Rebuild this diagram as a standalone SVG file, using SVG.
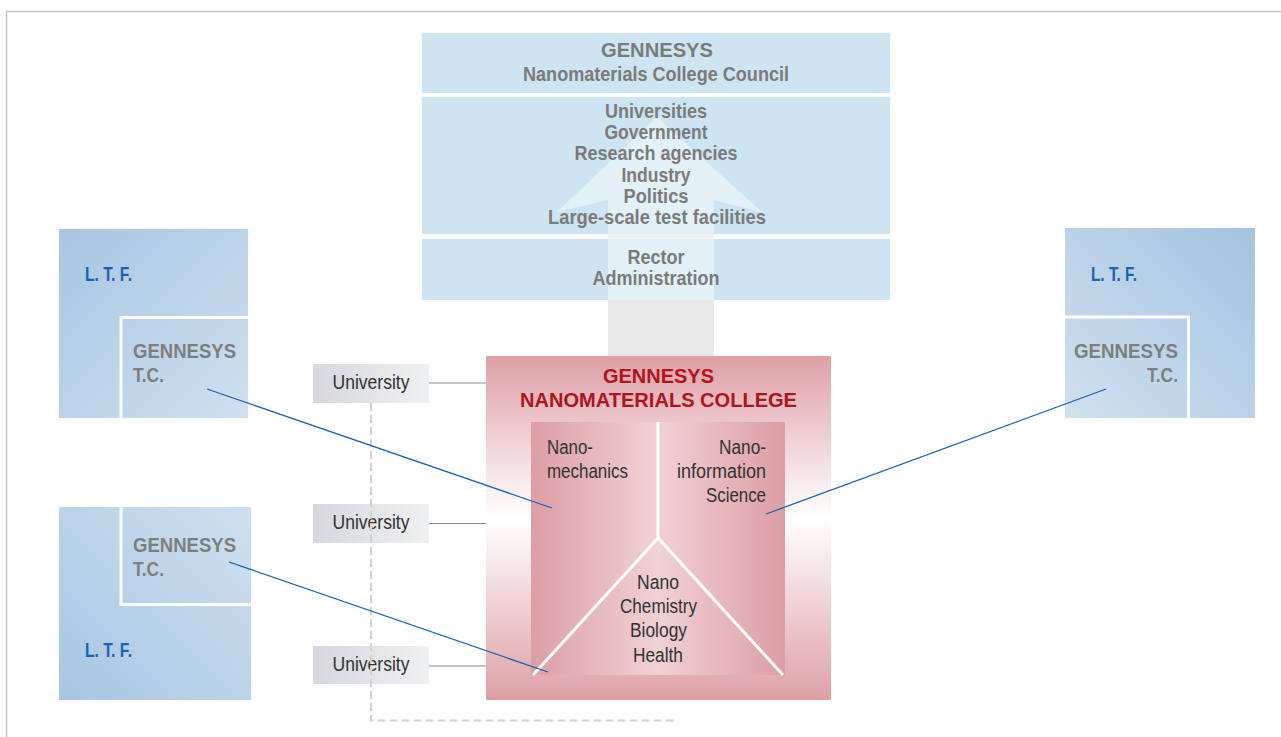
<svg xmlns="http://www.w3.org/2000/svg" width="1281" height="737" viewBox="0 0 1281 737">
<defs>
<style>
.t{font-family:"Liberation Sans Narrow","Liberation Sans",Arial,sans-serif;}
.hb{font-weight:bold;fill:#7b7b7b;font-size:20.5px;text-anchor:middle;}
.ltf{font-weight:bold;fill:#1a63b0;font-size:20px;}
.tc{font-weight:bold;fill:#7e7e7e;font-size:20.5px;}
.red{font-weight:bold;fill:#b0141f;font-size:20.5px;text-anchor:middle;}
.in{fill:#333;font-size:19.5px;}
.uni{fill:#333;font-size:19.5px;text-anchor:middle;}
.blue{fill:#cde5f2;}
.bl{stroke:#1a63b0;stroke-width:1.3;fill:none;}
.gl{stroke:#8a8a8a;stroke-width:1.2;fill:none;}
.wl{stroke:#fff;stroke-width:3;fill:none;}
</style>
<linearGradient id="gTL" x1="0" y1="0" x2="1" y2="1"><stop offset="0" stop-color="#a6c6e2"/><stop offset="1" stop-color="#cfe0ef"/></linearGradient>
<linearGradient id="gBL" x1="0" y1="1" x2="1" y2="0"><stop offset="0" stop-color="#a6c6e2"/><stop offset="1" stop-color="#cfe0ef"/></linearGradient>
<linearGradient id="gTR" x1="1" y1="0" x2="0" y2="1"><stop offset="0" stop-color="#a3c3e0"/><stop offset="1" stop-color="#d0e1ef"/></linearGradient>
<linearGradient id="gCol" x1="0" y1="0" x2="0" y2="1"><stop offset="0" stop-color="#dea0a5"/><stop offset="0.47" stop-color="#ffffff"/><stop offset="1" stop-color="#dea0a5"/></linearGradient>
<linearGradient id="gIn" x1="0" y1="0" x2="1" y2="0"><stop offset="0" stop-color="#dc9ea4"/><stop offset="0.5" stop-color="#f0d1d4"/><stop offset="1" stop-color="#dc9ea4"/></linearGradient>
<linearGradient id="gUni" x1="0" y1="0" x2="1" y2="0"><stop offset="0" stop-color="#d5d8dc"/><stop offset="1" stop-color="#eff0f2"/></linearGradient>
</defs>
<rect width="1281" height="737" fill="#fff"/>
<path d="M6.5,737 V11.5 H1281" fill="none" stroke="#c4c4c4" stroke-width="1.5"/>

<g id="arrow">
<path d="M657,117 L762,212 L714,200 V356 H608 V200 L557,212 Z" fill="#e8e8e8"/>
</g>

<g id="council">
<rect class="blue" x="422" y="33" width="468" height="60"/>
<rect class="blue" x="422" y="97" width="468" height="137"/>
<rect class="blue" x="422" y="239" width="468" height="61"/>
<path d="M657,117 L762,212 L714,200 V300 H608 V200 L557,212 Z" fill="#fff" fill-opacity="0.42"/>
<text class="t hb" x="657" y="57" textLength="112" lengthAdjust="spacingAndGlyphs">GENNESYS</text>
<text class="t hb" x="656" y="81" textLength="266" lengthAdjust="spacingAndGlyphs">Nanomaterials College Council</text>
<text class="t hb" x="656" y="118" textLength="102" lengthAdjust="spacingAndGlyphs">Universities</text>
<text class="t hb" x="656" y="139" textLength="103" lengthAdjust="spacingAndGlyphs">Government</text>
<text class="t hb" x="656" y="160" textLength="163" lengthAdjust="spacingAndGlyphs">Research agencies</text>
<text class="t hb" x="656" y="181.5" textLength="69" lengthAdjust="spacingAndGlyphs">Industry</text>
<text class="t hb" x="656" y="203" textLength="65" lengthAdjust="spacingAndGlyphs">Politics</text>
<text class="t hb" x="657" y="224" textLength="218" lengthAdjust="spacingAndGlyphs">Large-scale test facilities</text>
<text class="t hb" x="656" y="264" textLength="57" lengthAdjust="spacingAndGlyphs">Rector</text>
<text class="t hb" x="656" y="285" textLength="127" lengthAdjust="spacingAndGlyphs">Administration</text>
</g>

<g id="ltf-top-left">
<rect x="59" y="229" width="189" height="189" fill="url(#gTL)"/>
<path d="M121,418 V317.5 H248" class="wl" stroke-width="2.5"/>
<text class="t ltf" x="85" y="280.5" textLength="47" lengthAdjust="spacingAndGlyphs">L. T. F.</text>
<text class="t tc" x="133" y="358" textLength="103" lengthAdjust="spacingAndGlyphs">GENNESYS</text>
<text class="t tc" x="133" y="382" textLength="31" lengthAdjust="spacingAndGlyphs">T.C.</text>
</g>

<g id="ltf-bottom-left">
<rect x="59" y="507" width="192" height="193" fill="url(#gBL)"/>
<path d="M121,507 V604.5 H251" class="wl" stroke-width="2.5"/>
<text class="t tc" x="133" y="551.5" textLength="103" lengthAdjust="spacingAndGlyphs">GENNESYS</text>
<text class="t tc" x="133" y="575.5" textLength="31" lengthAdjust="spacingAndGlyphs">T.C.</text>
<text class="t ltf" x="85" y="656.5" textLength="47" lengthAdjust="spacingAndGlyphs">L. T. F.</text>
</g>

<g id="ltf-right">
<rect x="1065" y="228" width="190" height="190" fill="url(#gTR)"/>
<path d="M1065,317 H1188.5 V418" class="wl" stroke-width="2.5"/>
<text class="t ltf" x="1091" y="280.5" textLength="46" lengthAdjust="spacingAndGlyphs">L. T. F.</text>
<text class="t tc" x="1178" y="358" text-anchor="end" textLength="104" lengthAdjust="spacingAndGlyphs">GENNESYS</text>
<text class="t tc" x="1178" y="382" text-anchor="end" textLength="31" lengthAdjust="spacingAndGlyphs">T.C.</text>
</g>

<g id="college">
<rect x="486" y="356" width="345" height="344" fill="url(#gCol)"/>
<text class="t red" x="658.5" y="383" textLength="111" lengthAdjust="spacingAndGlyphs">GENNESYS</text>
<text class="t red" x="658.5" y="407" textLength="277" lengthAdjust="spacingAndGlyphs">NANOMATERIALS COLLEGE</text>
<rect x="531" y="422" width="254" height="253" fill="url(#gIn)"/>
<path d="M658,422 V538 M533,675 L658,538 L783,675" class="wl"/>
<text class="t in" x="547" y="454" textLength="46" lengthAdjust="spacingAndGlyphs">Nano-</text>
<text class="t in" x="547" y="478" textLength="81" lengthAdjust="spacingAndGlyphs">mechanics</text>
<text class="t in" x="766" y="454" text-anchor="end" textLength="47" lengthAdjust="spacingAndGlyphs">Nano-</text>
<text class="t in" x="766" y="478" text-anchor="end" textLength="89" lengthAdjust="spacingAndGlyphs">information</text>
<text class="t in" x="766" y="502" text-anchor="end" textLength="60" lengthAdjust="spacingAndGlyphs">Science</text>
<text class="t in" x="658" y="589" text-anchor="middle" textLength="42" lengthAdjust="spacingAndGlyphs">Nano</text>
<text class="t in" x="658.5" y="613" text-anchor="middle" textLength="77" lengthAdjust="spacingAndGlyphs">Chemistry</text>
<text class="t in" x="658.5" y="637" text-anchor="middle" textLength="57" lengthAdjust="spacingAndGlyphs">Biology</text>
<text class="t in" x="658" y="661.5" text-anchor="middle" textLength="50" lengthAdjust="spacingAndGlyphs">Health</text>
</g>

<g id="university-1">
<rect x="313" y="364" width="116" height="39" fill="url(#gUni)"/>
<text class="t uni" x="371" y="388.5" textLength="77" lengthAdjust="spacingAndGlyphs">University</text>
</g>
<g id="university-2">
<rect x="313" y="504" width="116" height="39" fill="url(#gUni)"/>
<text class="t uni" x="371" y="529" textLength="77" lengthAdjust="spacingAndGlyphs">University</text>
</g>
<g id="university-3">
<rect x="313" y="646" width="116" height="38" fill="url(#gUni)"/>
<text class="t uni" x="371" y="671" textLength="77" lengthAdjust="spacingAndGlyphs">University</text>
</g>

<g id="connectors">
<path d="M429,383 H486 M429,523.5 H486 M429,666 H486" class="gl"/>
<path d="M371,403 V720.5 H677" fill="none" stroke="#d2d2d2" stroke-width="2.2" stroke-dasharray="8,4"/>
<path d="M207,389 L552,508" class="bl"/>
<path d="M229,562 L548,672" class="bl"/>
<path d="M1106,389 L766,514" class="bl"/>
</g>
</svg>
